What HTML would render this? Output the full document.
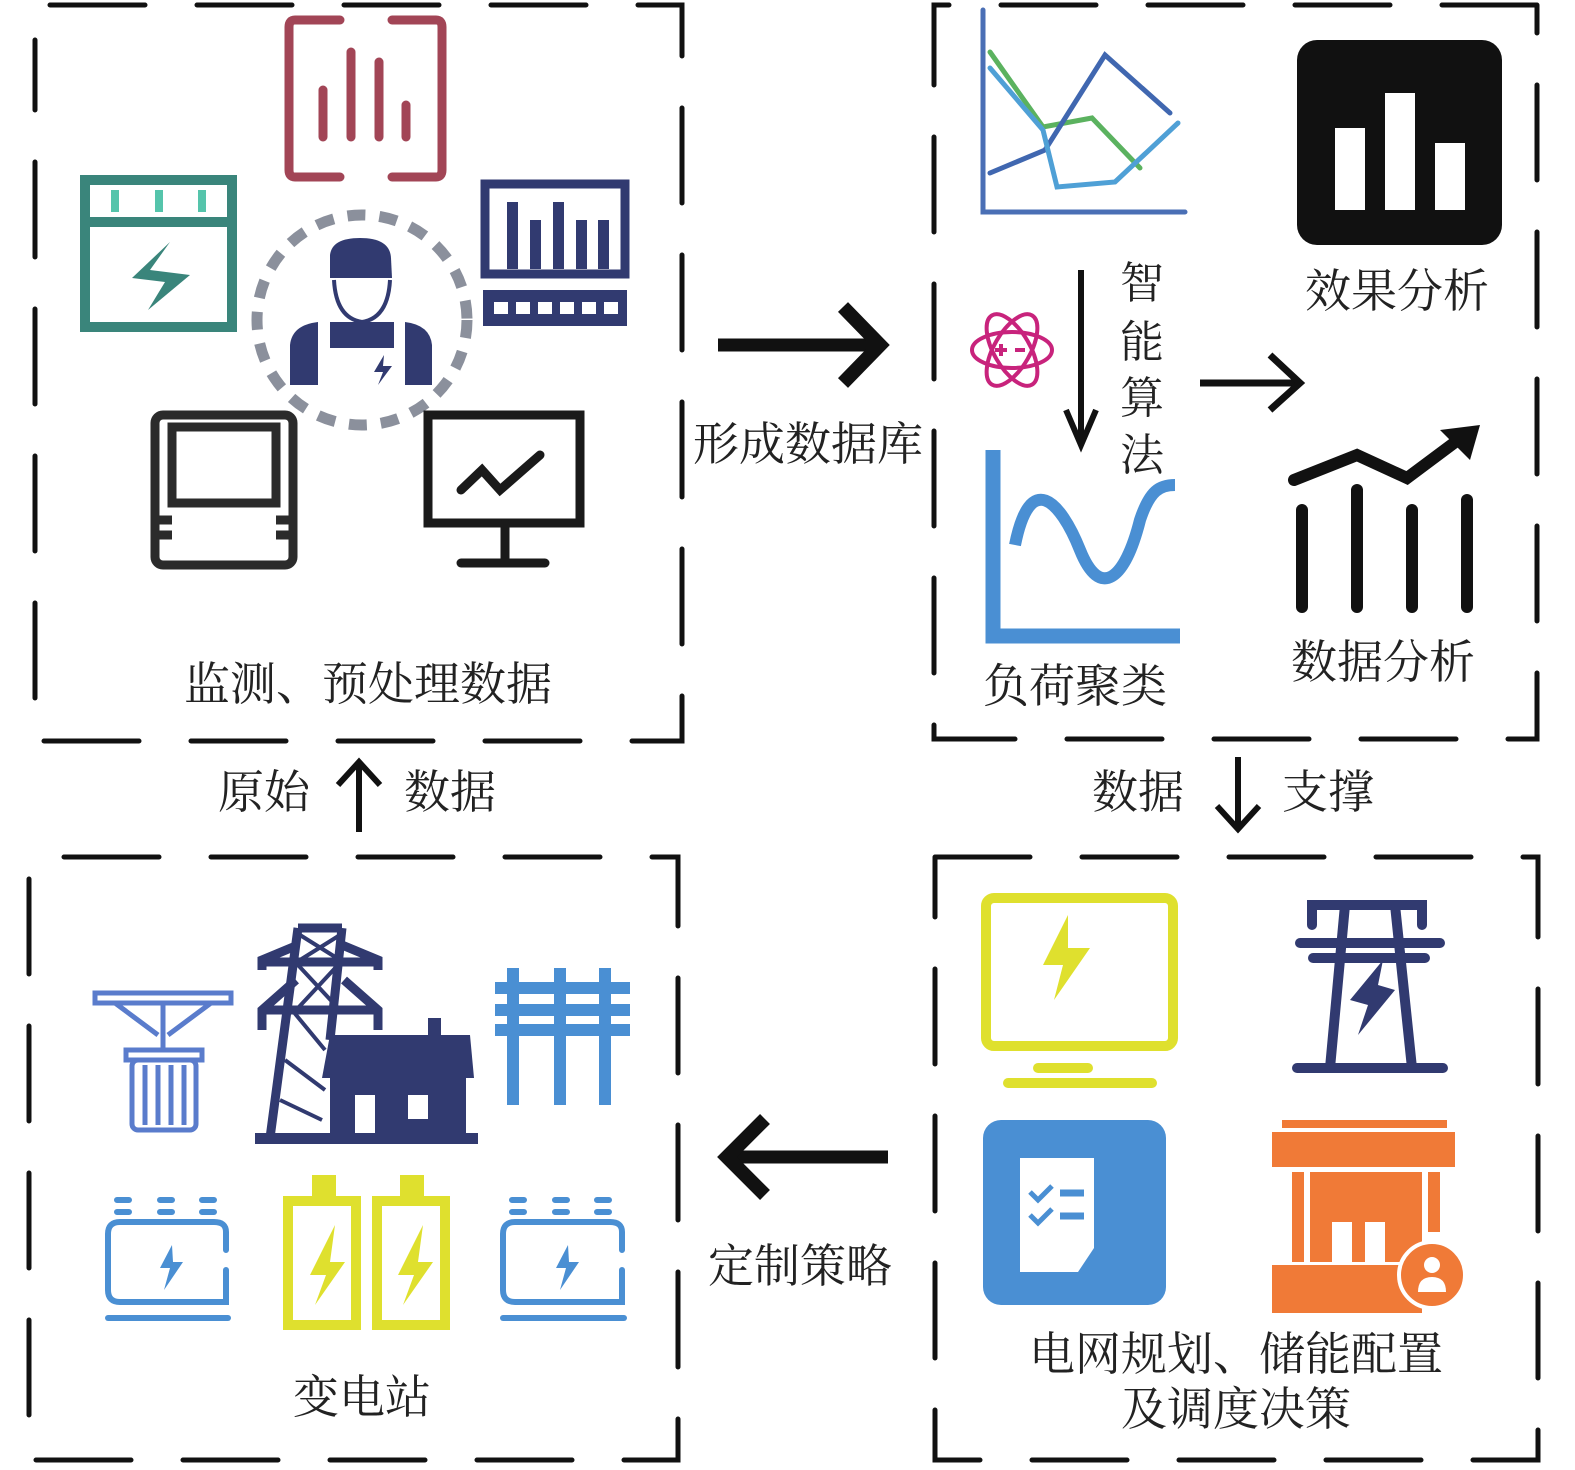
<!DOCTYPE html>
<html><head><meta charset="utf-8"><style>
html,body{margin:0;padding:0;background:#fff}
svg{display:block}
text{font-family:"Liberation Serif","Noto Serif CJK SC",serif;fill:#222}
</style></head><body>
<svg width="1575" height="1470" viewBox="0 0 1575 1470" xmlns="http://www.w3.org/2000/svg">
<g fill="none" stroke="#111" stroke-width="5" stroke-linecap="round">
<path d="M50 5 H682 V741 H35 V40" stroke-dasharray="95 52"/>
<path d="M1537 5 H934 V739 H1537 V5" stroke-dasharray="95 52"/>
<path d="M64 857 H678 V1460 H29 V875" stroke-dasharray="95 52"/>
<path d="M935 857 H1538 V1460 H935 V857" stroke-dasharray="95 52"/>
</g>

<!-- TL icons -->
<g fill="none" stroke="#a24556" stroke-width="9" stroke-linecap="round">
<path d="M340 20 H295 Q289 20 289 27 V170 Q289 177 295 177 H340"/>
<path d="M392 20 H436 Q442 20 442 27 V170 Q442 177 436 177 H392"/>
<line x1="323" y1="90" x2="323" y2="137"/><line x1="351" y1="52" x2="351" y2="137"/>
<line x1="379" y1="62" x2="379" y2="137"/><line x1="406" y1="105" x2="406" y2="137"/>
</g>
<g>
<rect x="85" y="180" width="147" height="147" fill="none" stroke="#3a857b" stroke-width="10"/>
<line x1="85" y1="222" x2="232" y2="222" stroke="#3a857b" stroke-width="10"/>
<rect x="111" y="190" width="8" height="22" fill="#55c4ab"/><rect x="155" y="190" width="8" height="22" fill="#55c4ab"/><rect x="198" y="190" width="8" height="22" fill="#55c4ab"/>
<polygon points="170,242 150,270 190,275 148,310 165,282 132,278" fill="#3a857b"/>
</g>
<g>
<rect x="485" y="184" width="140" height="90" fill="none" stroke="#313a70" stroke-width="9"/>
<rect x="483" y="290" width="144" height="36" fill="#313a70"/>
<g fill="#fff"><rect x="494" y="302" width="14" height="12"/><rect x="516" y="302" width="14" height="12"/><rect x="538" y="302" width="14" height="12"/><rect x="560" y="302" width="14" height="12"/><rect x="582" y="302" width="14" height="12"/><rect x="604" y="302" width="14" height="12"/></g>
<g fill="#313a70"><rect x="507" y="202" width="11" height="67"/><rect x="530" y="220" width="11" height="49"/><rect x="553" y="202" width="11" height="67"/><rect x="576" y="220" width="11" height="49"/><rect x="598" y="220" width="11" height="49"/></g>
</g>
<circle cx="362" cy="320" r="105" fill="none" stroke="#8b909c" stroke-width="11" stroke-dasharray="18 14"/>
<g fill="#313a70">
<path d="M330 255 Q332 238 360 238 Q390 238 391 258 L392 278 L330 278 Z"/>
<path d="M334 280 Q336 318 362 322 Q388 318 390 280" fill="none" stroke="#313a70" stroke-width="4"/>
<path d="M290 385 L290 345 Q292 325 318 322 L318 385 Z"/>
<path d="M405 385 L405 322 Q430 325 432 345 L432 385 Z"/>
<rect x="330" y="322" width="64" height="26"/>
<polygon points="384,355 374,372 383,372 378,385 392,366 383,366"/>
</g>
<g fill="none" stroke="#2b2b2b" stroke-width="9">
<rect x="155" y="415" width="138" height="150" rx="8"/>
<rect x="172" y="427" width="104" height="76"/>
<path d="M155 520 H172 M155 535 H172 M276 520 H293 M276 535 H293"/>
</g>
<g fill="none" stroke="#1a1a1a" stroke-width="9" stroke-linecap="round">
<rect x="428" y="415" width="152" height="108"/>
<line x1="505" y1="523" x2="505" y2="563"/><line x1="461" y1="563" x2="545" y2="563"/>
<polyline points="461,490 482,470 500,490 540,455"/>
</g>
<text x="368" y="700" font-size="46" text-anchor="middle">监测、预处理数据</text>

<!-- arrows -->
<g stroke="#111" stroke-width="13" fill="none">
<line x1="718" y1="345" x2="878" y2="345"/><polyline points="843,307 880,345 843,383" stroke-width="14"/>
<line x1="888" y1="1157" x2="730" y2="1157"/><polyline points="765,1119 727,1157 765,1195" stroke-width="14"/>
</g>
<text x="808" y="460" font-size="46" text-anchor="middle">形成数据库</text>
<text x="800" y="1282" font-size="46" text-anchor="middle">定制策略</text>
<g stroke="#111" stroke-width="6" fill="none">
<line x1="359" y1="832" x2="359" y2="765"/><polyline points="338,785 359,762 380,785"/>
<line x1="1238" y1="757" x2="1238" y2="827"/><polyline points="1217,806 1238,829 1259,806"/>
</g>
<text x="264" y="808" font-size="46" text-anchor="middle">原始</text>
<text x="450" y="808" font-size="46" text-anchor="middle">数据</text>
<text x="1138" y="808" font-size="46" text-anchor="middle">数据</text>
<text x="1328" y="808" font-size="46" text-anchor="middle">支撑</text>

<!-- TR icons -->
<g fill="none" stroke-width="5" stroke-linecap="round">
<polyline points="983,10 983,212 1185,212" stroke="#4a6fb5"/>
<polyline points="990,52 1043,127 1092,118 1140,168" stroke="#5bb25f"/>
<polyline points="990,173 1045,150 1105,55 1170,113" stroke="#4067b0"/>
<polyline points="990,68 1043,130 1057,187 1115,182 1178,123" stroke="#4fa0d6"/>
</g>
<rect x="1297" y="40" width="205" height="205" rx="20" fill="#111"/>
<g fill="#fff"><rect x="1335" y="128" width="30" height="82"/><rect x="1385" y="93" width="30" height="117"/><rect x="1435" y="143" width="30" height="67"/></g>
<text x="1397" y="307" font-size="46" text-anchor="middle">效果分析</text>
<g fill="none" stroke="#c8237c" stroke-width="4">
<ellipse cx="1012" cy="350" rx="40" ry="18"/><ellipse cx="1012" cy="350" rx="40" ry="18" transform="rotate(60 1012 350)"/><ellipse cx="1012" cy="350" rx="40" ry="18" transform="rotate(-60 1012 350)"/>
<path d="M995 350 h12 M1001 344 v12 M1015 350 h10"/>
</g>
<g stroke="#111" stroke-width="6" fill="none"><line x1="1081" y1="270" x2="1081" y2="440"/><polyline points="1066,410 1081,445 1096,410"/></g>
<g font-size="44"><text x="1120" y="298">智</text><text x="1120" y="357">能</text><text x="1120" y="413">算</text><text x="1120" y="470">法</text></g>
<g stroke="#111" stroke-width="7" fill="none"><line x1="1200" y1="383" x2="1300" y2="383"/><polyline points="1270,355 1300,383 1270,410"/></g>
<g fill="none" stroke="#4a8fd3">
<polyline points="993,450 993,636 1180,636" stroke-width="15"/>
<path d="M1015 545 C1030 470 1060 500 1080 550 C1100 600 1125 580 1140 520 C1150 490 1160 485 1175 485" stroke-width="12"/>
</g>
<text x="1075" y="702" font-size="46" text-anchor="middle">负荷聚类</text>
<g stroke="#111" stroke-width="12" stroke-linecap="round" fill="none">
<line x1="1302" y1="510" x2="1302" y2="607"/><line x1="1357" y1="490" x2="1357" y2="607"/><line x1="1412" y1="510" x2="1412" y2="607"/><line x1="1467" y1="500" x2="1467" y2="607"/>
<polyline points="1294,480 1357,455 1407,478 1458,440"/>
</g>
<polygon points="1480,425 1440,430 1470,460" fill="#111"/>
<text x="1383" y="678" font-size="46" text-anchor="middle">数据分析</text>

<!-- BL icons -->
<g fill="none" stroke="#5a7ccc" stroke-width="5">
<rect x="95" y="993" width="136" height="10"/><line x1="163" y1="1003" x2="163" y2="1050"/>
<path d="M115 1003 L158 1035 M211 1003 L168 1035"/>
<rect x="126" y="1050" width="76" height="10"/><rect x="132" y="1060" width="64" height="70" rx="6"/>
<path d="M145 1065 V1125 M158 1065 V1125 M171 1065 V1125 M184 1065 V1125"/>
</g>
<!-- tower -->
<g fill="none" stroke="#313a70" stroke-width="9">
<path d="M298 928 H342"/>
<path d="M298 928 L270 1138 M342 928 L330 1040"/>
<path d="M262 1030 V1010 L296 980 M378 1030 V1010 L344 980"/>
<path d="M262 970 V960 L298 945 M378 970 V960 L342 945"/>
<path d="M262 1010 H378 M262 962 H378"/>
</g>
<g fill="none" stroke="#313a70" stroke-width="4"><path d="M300 935 L340 960 M340 935 L300 960 M298 965 L338 1008 M338 965 L298 1008 M292 1010 L325 1050 M285 1060 L325 1090 M280 1100 L322 1120"/></g>
<g fill="#313a70">
<polygon points="330,1035 470,1035 474,1078 322,1078"/>
<rect x="428" y="1018" width="13" height="22"/>
<rect x="330" y="1078" width="136" height="58"/>
<rect x="255" y="1133" width="223" height="11"/>
</g>
<rect x="355" y="1095" width="20" height="38" fill="#fff"/><rect x="408" y="1095" width="20" height="24" fill="#fff"/>
<g stroke="#4a8fd3" stroke-width="12" fill="none">
<path d="M513 968 V1105 M560 968 V1105 M605 968 V1105"/>
<path d="M495 988 H630 M495 1010 H630 M495 1030 H630"/>
</g>
<g fill="none" stroke="#4a8fd3" stroke-width="6" stroke-linecap="round">
<path d="M226 1250 V1232 Q226 1222 214 1222 H120 Q108 1222 108 1234 V1290 Q108 1302 120 1302 H226 V1270"/>
<line x1="108" y1="1318" x2="228" y2="1318"/>
<path d="M117 1200 h12 M160 1200 h12 M202 1200 h12 M117 1212 h12 M160 1212 h12 M202 1212 h12" stroke-width="6"/>
<path d="M622 1250 V1232 Q622 1222 610 1222 H515 Q503 1222 503 1234 V1290 Q503 1302 515 1302 H622 V1270"/>
<line x1="503" y1="1318" x2="624" y2="1318"/>
<path d="M512 1200 h12 M555 1200 h12 M597 1200 h12 M512 1212 h12 M555 1212 h12 M597 1212 h12" stroke-width="6"/>
</g>
<polygon points="172,1245 160,1268 170,1268 164,1290 183,1262 173,1262" fill="#4a8fd3"/>
<polygon points="568,1245 556,1268 566,1268 560,1290 579,1262 569,1262" fill="#4a8fd3"/>
<g fill="none" stroke="#dfe02e" stroke-width="10">
<rect x="288" y="1201" width="68" height="124"/><rect x="377" y="1201" width="68" height="124"/>
</g>
<rect x="312" y="1175" width="24" height="26" fill="#dfe02e"/><rect x="400" y="1175" width="24" height="26" fill="#dfe02e"/>
<polygon points="335,1225 310,1275 326,1275 315,1305 345,1262 330,1262" fill="#dfe02e"/>
<polygon points="423,1225 398,1275 414,1275 403,1305 433,1262 418,1262" fill="#dfe02e"/>
<text x="362" y="1413" font-size="46" text-anchor="middle">变电站</text>

<!-- BR icons -->
<g fill="none" stroke="#dfe02e" stroke-width="10" stroke-linecap="round">
<rect x="986" y="898" width="187" height="148" rx="8"/>
<line x1="1038" y1="1068" x2="1088" y2="1068"/><line x1="1008" y1="1083" x2="1152" y2="1083"/>
</g>
<polygon points="1068,915 1043,965 1063,965 1054,1000 1090,948 1068,948" fill="#dfe02e"/>
<g fill="none" stroke="#313a70" stroke-width="10" stroke-linecap="round">
<line x1="1297" y1="1068" x2="1443" y2="1068"/>
<path d="M1330 1068 L1345 905 H1395 L1412 1068"/>
<path d="M1312 925 V905 H1422 V925 M1300 943 H1440 M1313 958 H1425"/>
</g>
<polygon points="1383,960 1350,1000 1368,1005 1358,1035 1395,990 1378,985" fill="#313a70"/>
<rect x="983" y="1120" width="183" height="185" rx="18" fill="#4a8fd3"/>
<path d="M1020 1158 H1094 V1248 L1078 1272 H1020 Z" fill="#fff"/>
<g stroke="#4a8fd3" stroke-width="5" fill="none"><path d="M1030 1192 l8 8 14-14 M1030 1215 l8 8 14-14"/><path d="M1060 1193 H1084 M1060 1216 H1084" stroke-width="7"/></g>
<g fill="#f07a37">
<rect x="1282" y="1120" width="165" height="8"/><rect x="1272" y="1132" width="183" height="35"/>
<rect x="1292" y="1172" width="12" height="90"/><rect x="1428" y="1172" width="12" height="60"/>
<rect x="1310" y="1172" width="112" height="90"/>
<rect x="1272" y="1265" width="150" height="48"/>
<circle cx="1432" cy="1275" r="33" stroke="#fff" stroke-width="4"/>
</g>
<g fill="#fff"><rect x="1332" y="1222" width="20" height="40"/><rect x="1365" y="1222" width="20" height="40"/><circle cx="1432" cy="1265" r="8"/><path d="M1418 1292 Q1418 1277 1432 1277 Q1446 1277 1446 1292 Z"/></g>
<text x="1236" y="1370" font-size="46" text-anchor="middle">电网规划、储能配置</text>
<text x="1236" y="1425" font-size="46" text-anchor="middle">及调度决策</text>
</svg>
</body></html>
